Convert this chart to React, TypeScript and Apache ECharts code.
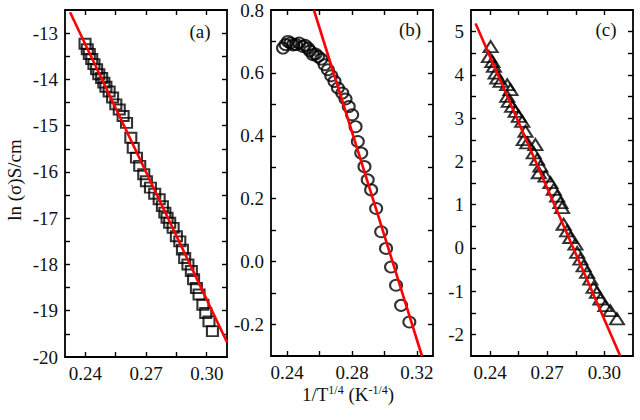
import React, { useEffect, useRef } from "react";
import * as echarts from "echarts";

const FONT = '"Liberation Serif", "Times New Roman", serif';

// Panel (a): squares
const panelAPoints: [number, number][] = [
  [0.2399, -13.23], [0.2410, -13.35], [0.2420, -13.45], [0.2432, -13.56],
  [0.2443, -13.67], [0.2456, -13.78], [0.2467, -13.89], [0.2481, -13.97],
  [0.2492, -14.07], [0.2502, -14.16], [0.2518, -14.26], [0.2535, -14.39],
  [0.2551, -14.54], [0.2568, -14.65], [0.2587, -14.79], [0.2604, -14.94],
  [0.2625, -15.26], [0.2637, -15.48], [0.2653, -15.69], [0.2669, -15.87],
  [0.2689, -16.05], [0.2702, -16.20], [0.2722, -16.34], [0.2743, -16.47],
  [0.2765, -16.59], [0.2781, -16.74], [0.2793, -16.88], [0.2804, -16.99],
  [0.2817, -17.10], [0.2834, -17.21], [0.2850, -17.39], [0.2867, -17.50],
  [0.2880, -17.68], [0.2891, -17.86], [0.2907, -18.00], [0.2924, -18.14],
  [0.2935, -18.32], [0.2949, -18.51], [0.2962, -18.65], [0.2981, -18.87],
  [0.2995, -19.05], [0.3011, -19.23], [0.3028, -19.44],
];
const panelAFit: [number, number][] = [[0.2325, -12.55], [0.31, -19.68]];

// Panel (b): circles
const panelBPoints: [number, number][] = [
  [0.2374, 0.679], [0.2390, 0.690], [0.2405, 0.700], [0.2420, 0.695],
  [0.2436, 0.689], [0.2455, 0.690], [0.2473, 0.695], [0.2497, 0.684],
  [0.2510, 0.688], [0.2528, 0.679], [0.2540, 0.670], [0.2559, 0.658],
  [0.2575, 0.660], [0.2590, 0.652], [0.2610, 0.644], [0.2631, 0.626],
  [0.2651, 0.610], [0.2672, 0.591], [0.2692, 0.573], [0.2713, 0.552],
  [0.2740, 0.536], [0.2760, 0.517], [0.2780, 0.493], [0.2801, 0.467],
  [0.2822, 0.429], [0.2836, 0.382], [0.2857, 0.345], [0.2877, 0.302],
  [0.2897, 0.260], [0.2918, 0.228], [0.2949, 0.169], [0.2980, 0.095],
  [0.3010, 0.042], [0.3041, -0.017], [0.3072, -0.075], [0.3103, -0.139],
  [0.3154, -0.192],
];
const panelBFit: [number, number][] = [[0.2565, 0.8], [0.3232, -0.3]];

// Panel (c): triangles
const panelCPoints: [number, number][] = [
  [0.2403, 4.654], [0.2394, 4.424], [0.2412, 4.309], [0.2420, 4.194],
  [0.2429, 4.041], [0.2438, 3.926], [0.2455, 3.848], [0.2490, 3.772],
  [0.2507, 3.657], [0.2490, 3.502], [0.2498, 3.387], [0.2516, 3.272],
  [0.2534, 3.157], [0.2551, 3.041], [0.2569, 2.926], [0.2586, 2.696],
  [0.2577, 2.505], [0.2595, 2.429], [0.2638, 2.389], [0.2629, 2.198],
  [0.2647, 2.044], [0.2664, 1.889], [0.2656, 1.737], [0.2691, 1.659],
  [0.2717, 1.507], [0.2734, 1.353], [0.2752, 1.198], [0.2769, 1.046],
  [0.2778, 0.931], [0.2786, 0.546], [0.2804, 0.392], [0.2821, 0.240],
  [0.2848, 0.085], [0.2857, -0.106], [0.2874, -0.260], [0.2891, -0.415],
  [0.2909, -0.567], [0.2926, -0.722], [0.2943, -0.913], [0.2961, -1.028],
  [0.2979, -1.182], [0.3005, -1.336], [0.3031, -1.452], [0.3066, -1.640],
];
const panelCFit: [number, number][] = [[0.2324, 5.19], [0.3083, -2.5]];

// Axis ticks / labels
const xTicksAC = [0.24, 0.255, 0.27, 0.285, 0.3];
const xLabelsAC = [0.24, 0.27, 0.3];
const xTicksB = [0.24, 0.26, 0.28, 0.3, 0.32];
const xLabelsB = [0.24, 0.28, 0.32];
const yTicksA = [-19.5, -19, -18.5, -18, -17.5, -17, -16.5, -16, -15.5, -15, -14.5, -14, -13.5, -13];
const yLabelsA = [-20, -19, -18, -17, -16, -15, -14, -13];
const yTicksB = [-0.2, -0.1, 0, 0.1, 0.2, 0.3, 0.4, 0.5, 0.6, 0.7];
const yLabelsB = [-0.2, 0, 0.2, 0.4, 0.6, 0.8];
const yTicksC = [-2, -1.5, -1, -0.5, 0, 0.5, 1, 1.5, 2, 2.5, 3, 3.5, 4, 4.5, 5];
const yLabelsC = [-2, -1, 0, 1, 2, 3, 4, 5];

const axisLineStyle = { color: "#000", width: 1.8 };

function makeAxis(
  gridIndex: number,
  position: string,
  min: number,
  max: number,
  ticks: number[],
  labels: number[] | null,
  digits: number
) {
  return {
    type: "value",
    gridIndex,
    position,
    min,
    max,
    axisLine: { show: true, onZero: false, lineStyle: axisLineStyle },
    axisTick: {
      show: true,
      inside: true,
      length: 5,
      lineStyle: { color: "#000", width: 1.4 },
      customValues: ticks,
    },
    axisLabel: labels
      ? {
          show: true,
          customValues: labels,
          formatter: (v: number) => v.toFixed(digits),
          color: "#111",
          fontFamily: FONT,
          fontSize: 19,
          margin: 7,
        }
      : { show: false },
    splitLine: { show: false },
  };
}

function scatter(idx: number, data: [number, number][], symbol: string, size: number[]) {
  return {
    type: "scatter",
    xAxisIndex: idx * 2,
    yAxisIndex: idx * 2,
    data,
    symbol,
    symbolSize: size,
    itemStyle: { color: "rgba(0,0,0,0)", borderColor: "#000", borderWidth: 2 },
    z: 2,
  };
}

function fit(idx: number, data: [number, number][]) {
  return {
    type: "line",
    xAxisIndex: idx * 2,
    yAxisIndex: idx * 2,
    data,
    symbol: "none",
    clip: true,
    lineStyle: { color: "#ff0000", width: 2.6 },
    z: 3,
  };
}

export default function App() {
  const ref = useRef<HTMLDivElement>(null);
  useEffect(() => {
    if (!ref.current) return;
    const chart = echarts.init(ref.current, null, { renderer: "svg" });
    const option: any = {
      animation: false,
      backgroundColor: "#fff",
      grid: [
        { left: 65, top: 10, width: 162, height: 347 },
        { left: 271, top: 10, width: 162, height: 346 },
        { left: 471, top: 10, width: 162, height: 346 },
      ],
      xAxis: [
        makeAxis(0, "bottom", 0.23, 0.31, xTicksAC, xLabelsAC, 2),
        makeAxis(0, "top", 0.23, 0.31, xTicksAC, null, 2),
        makeAxis(1, "bottom", 0.23, 0.33, xTicksB, xLabelsB, 2),
        makeAxis(1, "top", 0.23, 0.33, xTicksB, null, 2),
        makeAxis(2, "bottom", 0.23, 0.315, xTicksAC, xLabelsAC, 2),
        makeAxis(2, "top", 0.23, 0.315, xTicksAC, null, 2),
      ],
      yAxis: [
        makeAxis(0, "left", -20, -12.5, yTicksA, yLabelsA, 0),
        makeAxis(0, "right", -20, -12.5, yTicksA, null, 0),
        makeAxis(1, "left", -0.3, 0.8, yTicksB, yLabelsB, 1),
        makeAxis(1, "right", -0.3, 0.8, yTicksB, null, 1),
        makeAxis(2, "left", -2.5, 5.5, yTicksC, yLabelsC, 0),
        makeAxis(2, "right", -2.5, 5.5, yTicksC, null, 0),
      ],
      series: [
        scatter(0, panelAPoints, "rect", [11, 10]),
        scatter(1, panelBPoints, "circle", [12, 11]),
        scatter(2, panelCPoints, "triangle", [14, 11]),
        fit(0, panelAFit),
        fit(1, panelBFit),
        fit(2, panelCFit),
      ],
      graphic: [
        {
          type: "text",
          x: 200,
          y: 31,
          style: { text: "(a)", fontFamily: FONT, fontSize: 19, fill: "#111", textAlign: "center", textVerticalAlign: "middle" },
        },
        {
          type: "text",
          x: 410,
          y: 29,
          style: { text: "(b)", fontFamily: FONT, fontSize: 19, fill: "#111", textAlign: "center", textVerticalAlign: "middle" },
        },
        {
          type: "text",
          x: 606,
          y: 29,
          style: { text: "(c)", fontFamily: FONT, fontSize: 19, fill: "#111", textAlign: "center", textVerticalAlign: "middle" },
        },
        {
          type: "text",
          x: 14,
          y: 180,
          rotation: Math.PI / 2,
          style: { text: "ln (σ)S/cm", fontFamily: FONT, fontSize: 19, fill: "#111", textAlign: "center", textVerticalAlign: "middle" },
        },
        {
          type: "text",
          x: 348,
          y: 394,
          style: {
            text: "1/T{s|1/4} (K{s|-1/4})",
            fontFamily: FONT,
            fontSize: 19,
            fill: "#111",
            textAlign: "center",
            textVerticalAlign: "middle",
            rich: {
              s: { fontFamily: FONT, fontSize: 12, fill: "#111", verticalAlign: "top", lineHeight: 20 },
            },
          },
        },
      ],
    };
    chart.setOption(option);
    return () => chart.dispose();
  }, []);
  return (
    <div
      ref={ref}
      style={{ position: "fixed", left: 0, top: 0, width: 640, height: 420, background: "#fff" }}
    />
  );
}
